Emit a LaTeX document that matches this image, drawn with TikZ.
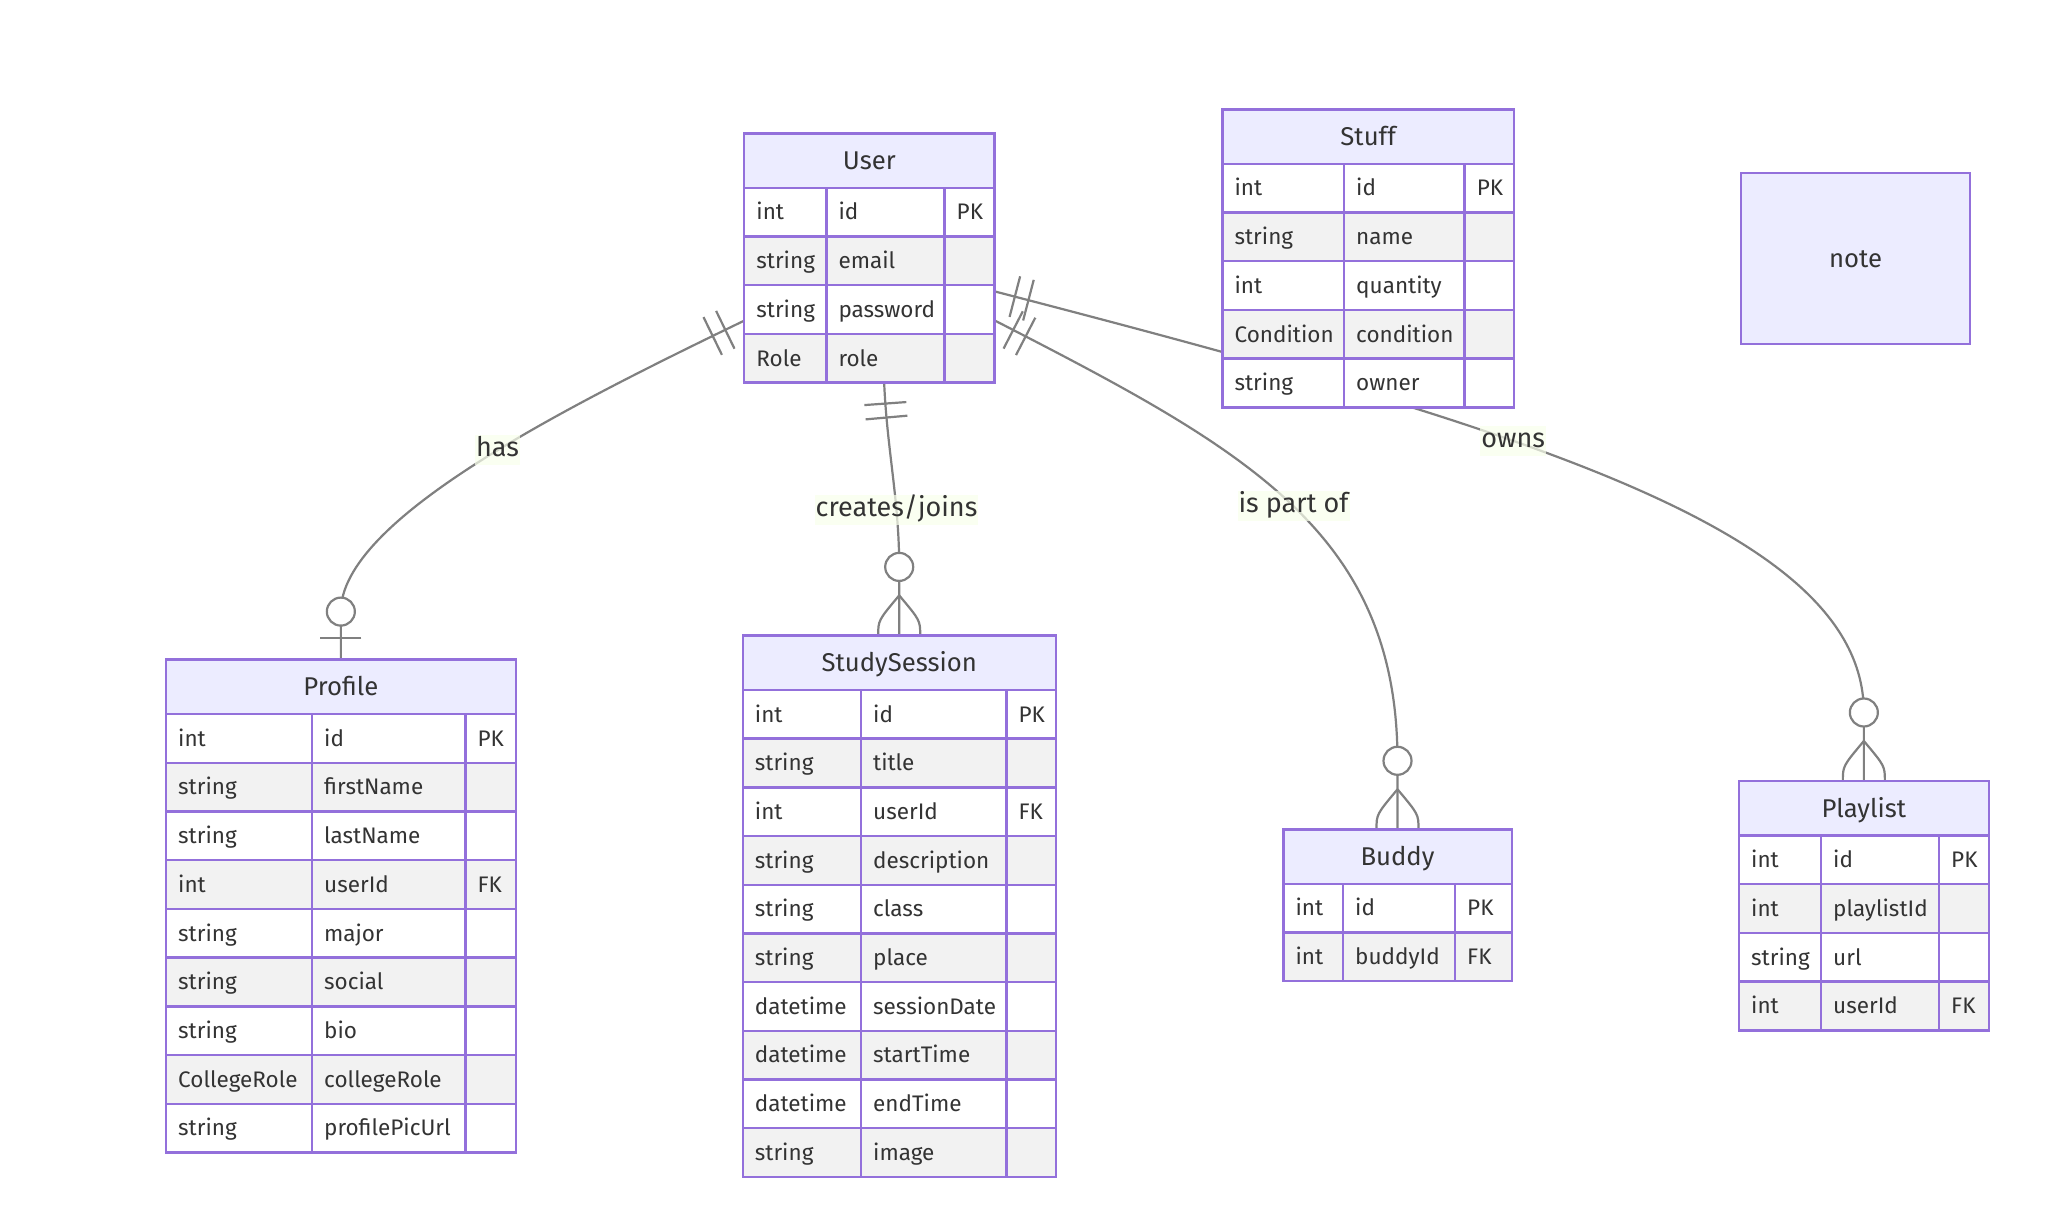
\documentclass[tikz,border=0pt]{standalone}
\usepackage{fontspec}
\setmainfont{Fira Sans}
\usepackage{tikz}
\usetikzlibrary{positioning, fit, calc, decorations.markings}
\usepackage{xcolor}
\definecolor{erborder}{RGB}{147,112,219}
\definecolor{erhd}{RGB}{236,236,255}
\definecolor{errow}{RGB}{242,242,242}
\definecolor{ertxt}{RGB}{51,51,51}
\definecolor{erconn}{RGB}{128,128,128}
\definecolor{erlbg}{RGB}{249,255,236}

\pgfdeclarelayer{edges}
\pgfsetlayers{edges,main}

\newcommand{\erheadfont}{\fontsize{25.7}{29}\selectfont}
\newcommand{\erlblfont}{\fontsize{27}{30}\selectfont}
\newcommand{\ercellfont}{\fontsize{22.5}{26}\selectfont}

% entity table: name, x, y, three column widths, title, rows, last row
\newcommand{\erentity}[9]{%
  \node[erhead, minimum width=#4+#5+#6, anchor=north west] (#1) at (#2,#3) {#7};
  \foreach \ty/\na/\ke [count=\i] in {#8} {
    \ifodd\i\relax \colorlet{erfill}{white}\else \colorlet{erfill}{errow}\fi
    \pgfmathsetmacro\erdy{#3+54.5+(\i-1)*48.7}
    \node[ercell, fill=erfill, minimum width=#4] (#1-\i-a) at (#2,\erdy) {};
    \node[ercell, fill=erfill, minimum width=#5] (#1-\i-b) at (#1-\i-a.north east) {};
    \node[ercell, fill=erfill, minimum width=#6] (#1-\i-c) at (#1-\i-b.north east) {};
    \node[ertext] (#1-\i-at) at ([xshift=12pt]#1-\i-a.west) {\ty};
    \node[ertext] (#1-\i-bt) at ([xshift=12pt]#1-\i-b.west) {\na};
    \node[ertext] (#1-\i-ct) at ([xshift=12pt]#1-\i-c.west) {\ke};
  }
  \node[fit=(#1)(#1-#9-c), inner sep=0pt, outer sep=0pt] (#1-box) {};
}

\begin{document}
\begin{tikzpicture}[
    x=1pt, y=-1pt,
    erhead/.style={rectangle, draw=erborder, fill=erhd, line width=2.4pt,
                   minimum height=54.5pt, inner sep=0pt, outer sep=0pt,
                   text=ertxt, font=\erheadfont, text height=18pt, text depth=0pt},
    ercell/.style={rectangle, draw=erborder, line width=2.4pt, anchor=north west,
                   minimum height=48.7pt, inner sep=0pt, outer sep=0pt},
    ertext/.style={anchor=west, inner sep=0pt, text=ertxt, font=\ercellfont,
                   text height=15.5pt, text depth=0pt},
    erline/.style={draw=erconn, line width=2.2pt},
    erlbl/.style={fill=erlbg, fill opacity=0.7, text opacity=1, text=ertxt,
                  font=\erlblfont, inner xsep=1pt, inner ysep=0pt,
                  minimum height=30pt, text height=18.5pt, text depth=5.5pt},
    onestart/.style={postaction={decorate, decoration={markings,
        mark=at position 21pt with {\draw[erline] (0,-21) -- (0,21);},
        mark=at position 35pt with {\draw[erline] (0,-21) -- (0,21);}}}},
    zeroone/.style={postaction={decorate, decoration={markings,
        mark=at position -48pt with {\draw[erline, fill=white] (0,0) circle[radius=14];},
        mark=at position -21.3pt with {\draw[erline] (0,-20.5) -- (0,20.5);}}}},
    zeromany/.style={postaction={decorate, decoration={markings,
        mark=at position -68.5pt with {\draw[erline, fill=white] (0,0) circle[radius=14];},
        mark=at position -40pt with {\draw[erline] (0,0) .. controls (25,21) .. (40,21)
                                      (0,0) .. controls (25,-21) .. (40,-21);}}}},
]
\useasboundingbox (0,0) rectangle (2070,1213);

% Entities
\erentity{user}{744.2}{133.3}{82.1}{118.2}{50}{User}
  {int/id/PK, string/email/{}, string/password/{}, Role/role/{}}{4}
\erentity{stuff}{1222.4}{109.3}{121.6}{120.6}{49.4}{Stuff}
  {int/id/PK, string/name/{}, int/quantity/{}, Condition/condition/{}, string/owner/{}}{5}
\erentity{profile}{166}{659.6}{146}{153.3}{50.4}{Profile}
  {int/id/PK, string/firstName/{}, string/lastName/{}, int/userId/FK, string/major/{},
   string/social/{}, string/bio/{}, CollegeRole/collegeRole/{}, string/profilePicUrl/{}}{9}
\erentity{studysession}{742.7}{635.4}{118.3}{145.3}{49.4}{StudySession}
  {int/id/PK, string/title/{}, int/userId/FK, string/description/{}, string/class/{},
   string/place/{}, datetime/sessionDate/{}, datetime/startTime/{}, datetime/endTime/{},
   string/image/{}}{10}
\erentity{buddy}{1283.3}{829.3}{59.7}{112}{56.7}{Buddy}
  {int/id/PK, int/buddyId/FK}{2}
\erentity{playlist}{1739}{781}{82}{118}{49.7}{Playlist}
  {int/id/PK, int/playlistId/{}, string/url/{}, int/userId/FK}{4}

% Note
\node[erhead, minimum width=229pt, minimum height=171.3pt, anchor=north west]
      (note) at (1741,172.7) {note};

% Relationships
\begin{pgfonlayer}{edges}
\fill[white] (0,0) rectangle (2070,1213);

\coordinate (u-has) at ([yshift=-62.7pt]user-box.west);
\coordinate (p-has) at ([yshift=48pt]profile.north);
\draw[erline, onestart, zeroone] (u-has)
    .. controls ($(u-has)+(-184,89)$) and ($(p-has)+(0,-91.3)$) .. (p-has)
    node[erlbl, pos=0.45] (lbl-has) {has} -- (profile.north);

\coordinate (u-ss) at ([xshift=14.8pt]user-box.south);
\coordinate (s-ss) at ([yshift=68.5pt]studysession.north);
\draw[erline, onestart, zeromany] (u-ss)
    .. controls ($(u-ss)+(2.8,66.7)$) and ($(s-ss)+(0,-66.7)$) .. (s-ss)
    node[erlbl, pos=0.7] (lbl-ss) {creates/joins} -- (studysession.north);

\coordinate (u-bd) at ([yshift=-62.4pt]user-box.east);
\coordinate (b-bd) at ([yshift=68.5pt]buddy.north);
\draw[erline, onestart, zeromany] (u-bd)
    .. controls ($(u-bd)+(249,128)$) and ($(b-bd)+(0,-230)$) .. (b-bd)
    node[erlbl, pos=0.51] (lbl-bd) {is part of} -- (buddy.north);

\coordinate (u-pl) at ([yshift=-33.4pt]user-box.east);
\coordinate (p-pl) at ([yshift=68.5pt]playlist.north);
\draw[erline, onestart, zeromany] (u-pl)
    .. controls ($(u-pl)+(542,140.6)$) and ($(p-pl)+(0,-180)$) .. (p-pl)
    node[erlbl, pos=0.38] (lbl-pl) {owns} -- (playlist.north);
\end{pgfonlayer}

\end{tikzpicture}
\end{document}
